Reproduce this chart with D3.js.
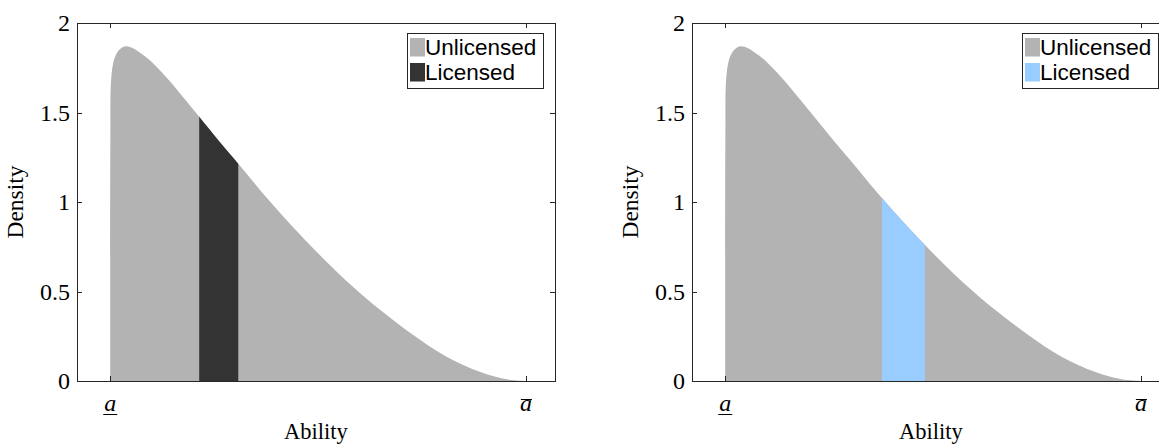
<!DOCTYPE html>
<html>
<head>
<meta charset="utf-8">
<script src="https://cdn.jsdelivr.net/npm/d3@7"></script>
<style>
  html, body { margin: 0; padding: 0; background: #fff; overflow: hidden; }
  svg { display: block; }
</style>
</head>
<body>
<script>
// ---- data ----
const ability = [0, 0.0003, 0.002, 0.008, 0.016, 0.026, 0.036, 0.046, 0.056, 0.076, 0.096, 0.136, 0.176, 0.214, 0.26, 0.308, 0.377, 0.43, 0.48, 0.565, 0.649, 0.729, 0.809, 0.889, 0.954, 1.0];
const density = [0, 1.35, 1.68, 1.785, 1.833, 1.859, 1.87, 1.867, 1.857, 1.827, 1.79, 1.694, 1.584, 1.476, 1.345, 1.214, 1.022, 0.884, 0.761, 0.566, 0.398, 0.257, 0.136, 0.052, 0.0095, 0];
const licensedLeft = [0.214, 0.308];
const licensedRight = [0.377, 0.48];
const yTicks = [0, 0.5, 1, 1.5, 2];
const xTicks = [0, 1];
const seriesNames = ["Unlicensed", "Licensed"];
const panelColors = [["#b3b3b3", "#333333"], ["#b3b3b3", "#99ccff"]];

const W = 1159, H = 447;
const svg = d3.select("body").append("svg").attr("width", W).attr("height", H);

const pts = ability.map((x, i) => ({x, y: density[i]}));
const serif = "Liberation Serif, DejaVu Serif, serif";

function panel(left, licensed, colors, idx) {
  const pw = 478, top = 23, bottom = 381;
  const x = d3.scaleLinear().domain([-0.08, 1.07]).range([left, left + pw]);
  const y = d3.scaleLinear().domain([0, 2]).range([bottom, top]);
  const g = svg.append("g");

  const pid = "plot" + idx;
  g.append("clipPath").attr("id", pid).append("rect")
    .attr("x", left).attr("y", top).attr("width", pw).attr("height", bottom - top);

  const area = d3.area().x(d => x(d.x)).y0(y(0)).y1(d => y(d.y)).curve(d3.curveCatmullRom.alpha(0.5));
  const pg = g.append("g").attr("clip-path", `url(#${pid})`);
  pg.append("path").datum(pts).attr("d", area).attr("fill", colors[0]);

  const cid = "clip" + idx;
  g.append("clipPath").attr("id", cid).append("rect")
    .attr("x", x(licensed[0])).attr("y", top)
    .attr("width", x(licensed[1]) - x(licensed[0])).attr("height", bottom - top);
  pg.append("path").datum(pts).attr("d", area).attr("fill", colors[1]).attr("clip-path", `url(#${cid})`);

  // box
  const ax = "#262626";
  g.append("rect").attr("x", left + 0.5).attr("y", top + 0.5).attr("width", pw).attr("height", bottom - top)
    .attr("fill", "none").attr("stroke", ax).attr("stroke-width", 1);

  const tl = 5;
  yTicks.forEach(t => {
    const yy = Math.round(y(t)) + 0.5;
    g.append("line").attr("x1", left).attr("x2", left + tl).attr("y1", yy).attr("y2", yy).attr("stroke", ax);
    g.append("line").attr("x1", left + pw).attr("x2", left + pw - tl).attr("y1", yy).attr("y2", yy).attr("stroke", ax);
    g.append("text").attr("x", left - 7).attr("y", y(t)).attr("dy", "0.35em")
      .attr("text-anchor", "end").attr("font-family", serif)
      .attr("font-size", 24).attr("fill", "#000").text(t);
  });
  xTicks.forEach(t => {
    const xx = Math.round(x(t)) + 0.5;
    g.append("line").attr("x1", xx).attr("x2", xx).attr("y1", bottom).attr("y2", bottom - tl).attr("stroke", ax);
    g.append("line").attr("x1", xx).attr("x2", xx).attr("y1", top).attr("y2", top + tl).attr("stroke", ax);
    g.append("text").attr("x", x(t)).attr("y", 411)
      .attr("text-anchor", "middle").attr("font-family", serif)
      .attr("font-style", "italic").attr("font-size", 24).attr("fill", "#000").text("a");
    if (t === 0) {
      g.append("line").attr("x1", x(t) - 7).attr("x2", x(t) + 7).attr("y1", 414.5).attr("y2", 414.5).attr("stroke", "#000").attr("stroke-width", 1);
    } else {
      g.append("line").attr("x1", x(t) - 5).attr("x2", x(t) + 6).attr("y1", 399.5).attr("y2", 399.5).attr("stroke", "#000").attr("stroke-width", 1);
    }
  });

  g.append("text").attr("x", left + pw / 2).attr("y", 439).attr("text-anchor", "middle")
    .attr("font-family", serif).attr("font-size", 22.5).text("Ability");
  g.append("text").attr("transform", `translate(${left - 54},${(top + bottom) / 2}) rotate(-90)`)
    .attr("text-anchor", "middle").attr("font-family", serif)
    .attr("font-size", 23.5).text("Density");

  // legend
  const lx = left + 330, ly = 33;
  g.append("rect").attr("x", lx + 0.5).attr("y", ly + 0.5).attr("width", 136).attr("height", 55)
    .attr("fill", "#fff").attr("stroke", ax).attr("stroke-width", 1);
  seriesNames.forEach((n, i) => {
    g.append("rect").attr("x", lx + 3).attr("y", ly + 5 + i * 25).attr("width", 15).attr("height", 18.5).attr("fill", colors[i]);
    g.append("text").attr("x", lx + 18).attr("y", ly + 22 + i * 25)
      .attr("font-family", "Liberation Sans, Arial, sans-serif").attr("font-size", 22.5).attr("fill", "#000").text(n);
  });
}

panel(77, licensedLeft, panelColors[0], 0);
panel(692, licensedRight, panelColors[1], 1);
</script>
</body>
</html>
